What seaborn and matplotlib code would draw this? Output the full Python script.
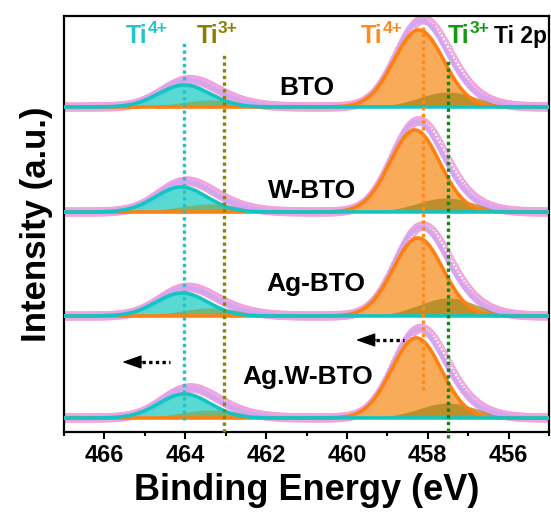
import numpy as np
import pandas as pd
import matplotlib
matplotlib.use("Agg")
import matplotlib.pyplot as plt
import seaborn as sns

# ---------------- data ----------------
samples = ["BTO", "W-BTO", "Ag-BTO", "Ag.W-BTO"]
offsets = [325, 220, 116, 14]                 # baseline of each stacked spectrum
# Ti4+ 2p3/2 component
ti4_p32_center = [458.22, 458.32, 458.24, 458.28]
ti4_p32_height = [77, 82, 78, 80]
ti4_p32_fwhm = [1.45, 1.45, 1.45, 1.45]
# Ti4+ 2p1/2 component
ti4_p12_center = [464.02, 464.10, 464.08, 464.02]
ti4_p12_height = [22, 25, 23, 24]
ti4_p12_fwhm = [1.5, 1.5, 1.5, 1.5]
# Ti3+ 2p3/2 component
ti3_p32_center = [457.5, 457.55, 457.5, 457.5]
ti3_p32_height = [15, 14, 18, 15]
ti3_p32_fwhm = [1.7, 1.7, 1.7, 1.7]
# Ti3+ 2p1/2 component
ti3_p12_center = [463.35, 463.4, 463.35, 463.35]
ti3_p12_height = [7, 8, 8, 8]
ti3_p12_fwhm = [1.8, 1.8, 1.8, 1.8]
# small offset between measured points and fit envelope
data_shift = [-0.05, -0.05, -0.05, -0.05]
data_scale = [1.01, 1.01, 1.01, 1.01]

ref_lines = {"cyan": 464.02, "olive": 463.05, "orange": 458.12, "green": 457.5}
xticks = [466, 464, 462, 460, 458, 456]
x_range = (467, 455)

# ---------------- style ----------------
sns.set_theme(style="ticks")
plt.rcParams["font.family"] = ["Liberation Sans", "DejaVu Sans"]
plt.rcParams["font.weight"] = "bold"
for k in ["text.color", "axes.labelcolor", "xtick.color", "ytick.color", "axes.edgecolor"]:
    plt.rcParams[k] = "black"

C_CYAN_L = "#12c4c4"
C_CYAN_F = "#4fd7d2"
C_OR_L = "#ff8010"
C_OR_F = "#f8a850"
C_OLIVE_F = "#a8861c"
C_LAV = "#d3a6f2"
C_PINK = "#f2a2dc"

fig = plt.figure(figsize=(5.51, 5.14), dpi=100)
ax = fig.add_axes([64 / 551, (514 - 432) / 514, (549 - 64) / 551, 416 / 514])

x = np.linspace(455, 467, 1201)
xd = np.arange(455, 467.001, 0.05)


def g(xx, c, h, w):
    s = w / 2.3548
    return h * np.exp(-((xx - c) ** 2) / (2 * s * s))


for i, name in enumerate(samples):
    b = offsets[i]

    def comps(xx):
        return (g(xx, ti4_p32_center[i], ti4_p32_height[i], ti4_p32_fwhm[i]),
                g(xx, ti4_p12_center[i], ti4_p12_height[i], ti4_p12_fwhm[i]),
                g(xx, ti3_p32_center[i], ti3_p32_height[i], ti3_p32_fwhm[i]),
                g(xx, ti3_p12_center[i], ti3_p12_height[i], ti3_p12_fwhm[i]))

    p32, p12, t32, t12 = comps(x)
    env = p32 + p12 + t32 + t12

    meas = pd.DataFrame({"x": xd, "y": b + data_scale[i] * sum(comps(xd - data_shift[i]))})
    sns.scatterplot(data=meas, x="x", y="y", ax=ax, marker="o", s=34,
                    facecolor="none", edgecolor=C_PINK, linewidth=1.0, zorder=2)

    ax.fill_between(x, b, b + p12, color=C_CYAN_F, alpha=0.95, lw=0, zorder=3)
    ax.fill_between(x, b, b + p32, color=C_OR_F, alpha=0.95, lw=0, zorder=3)
    ax.fill_between(x, b, b + t32, color=C_OLIVE_F, alpha=0.75, lw=0, zorder=4)
    ax.fill_between(x, b, b + t12, color="#8a9a30", alpha=0.55, lw=0, zorder=4)

    df = pd.DataFrame({"x": x, "env": b + env, "p32": b + p32, "p12": b + p12})
    sns.lineplot(data=df, x="x", y="env", ax=ax, color=C_LAV, lw=3, zorder=5)
    sns.lineplot(data=df, x="x", y="p32", ax=ax, color=C_OR_L, lw=2.6, zorder=6)
    sns.lineplot(data=df, x="x", y="p12", ax=ax, color=C_CYAN_L, lw=2.6, zorder=7)

# vertical dotted guides (y in data units = 432 - pixel row)
dot = dict(lw=2.4, linestyle=(0, (1, 1)), dash_capstyle="butt", zorder=9, clip_on=False)
ax.plot([ref_lines["cyan"]] * 2, [432 - 420, 432 - 43], color="#20c4c4", **dot)
ax.plot([ref_lines["olive"]] * 2, [432 - 432, 432 - 52], color="#8a8500", **dot)
ax.plot([ref_lines["orange"]] * 2, [432 - 390, 432 - 27], color="#ff8a1a", **dot)
ax.plot([ref_lines["green"]] * 2, [432 - 438, 432 - 58], color="#0a8a0a", **dot)

# peak labels: "Ti" + superscript
lab_y = 432 - 43
peak_labels = [(465.47, "4+", "#22c6c6"), (463.72, "3+", "#8a8000"),
               (459.65, "4+", "#ff8a1a"), (457.5, "3+", "#119a11")]
for xl, sup, col in peak_labels:
    ax.text(xl, lab_y, "Ti", color=col, fontsize=18, ha="left", va="baseline",
            fontweight="bold", zorder=10)
    ax.annotate(sup, xy=(xl, lab_y), xytext=(15.5, 7), textcoords="offset points",
                color=col, fontsize=12.5, ha="left", va="baseline", fontweight="bold",
                zorder=10)
ax.text(455.04, lab_y, "Ti 2p", color="black", fontsize=16.5, ha="right", va="baseline",
        fontweight="bold")

# sample labels
sample_label_x = [461.0, 460.85, 460.77, 460.97]
sample_label_y = [432 - 88, 432 - 191, 432 - 284, 432 - 377]
for i, name in enumerate(samples):
    ax.text(sample_label_x[i], sample_label_y[i], name, fontsize=19, ha="center",
            va="center", fontweight="bold", zorder=10)

# shift arrows
arrows = [((467 - (122 - 64) / 40.3, 432 - 362), (467 - (170 - 64) / 40.3, 432 - 362)),
          ((467 - (355 - 64) / 40.3, 432 - 340), (467 - (403 - 64) / 40.3, 432 - 340))]
for tip, tail in arrows:
    head_base = (tip[0] - 0.5, tip[1])
    ax.plot([head_base[0], tail[0]], [tip[1], tail[1]], color="black", lw=2.4,
            linestyle=(0, (1, 1)), dash_capstyle="butt", zorder=10)
    ax.annotate("", xy=tip, xytext=head_base,
                arrowprops=dict(arrowstyle="-|>,head_length=1.0,head_width=0.35",
                                color="black", lw=1, shrinkA=0, shrinkB=0),
                zorder=10)

ax.set_xlim(*x_range)
ax.set_ylim(0, 416)
ax.set_xticks(xticks)
ax.set_xticks(np.arange(455, 468, 1), minor=True)
ax.set_yticks([])
ax.tick_params(axis="x", which="major", length=5, width=1.5, direction="out",
               labelsize=17, pad=4)
ax.tick_params(axis="x", which="minor", length=3, width=1.5, direction="out")
for lbl in ax.get_xticklabels():
    lbl.set_fontweight("bold")
for sp in ax.spines.values():
    sp.set_visible(True)
    sp.set_linewidth(1.6)
    sp.set_color("black")

ax.set_xlabel("Binding Energy (eV)", fontsize=26, fontweight="bold", labelpad=4)
ax.set_ylabel("Intensity (a.u.)", fontsize=25, fontweight="bold", labelpad=8)

fig.savefig("out.png", dpi=100)
